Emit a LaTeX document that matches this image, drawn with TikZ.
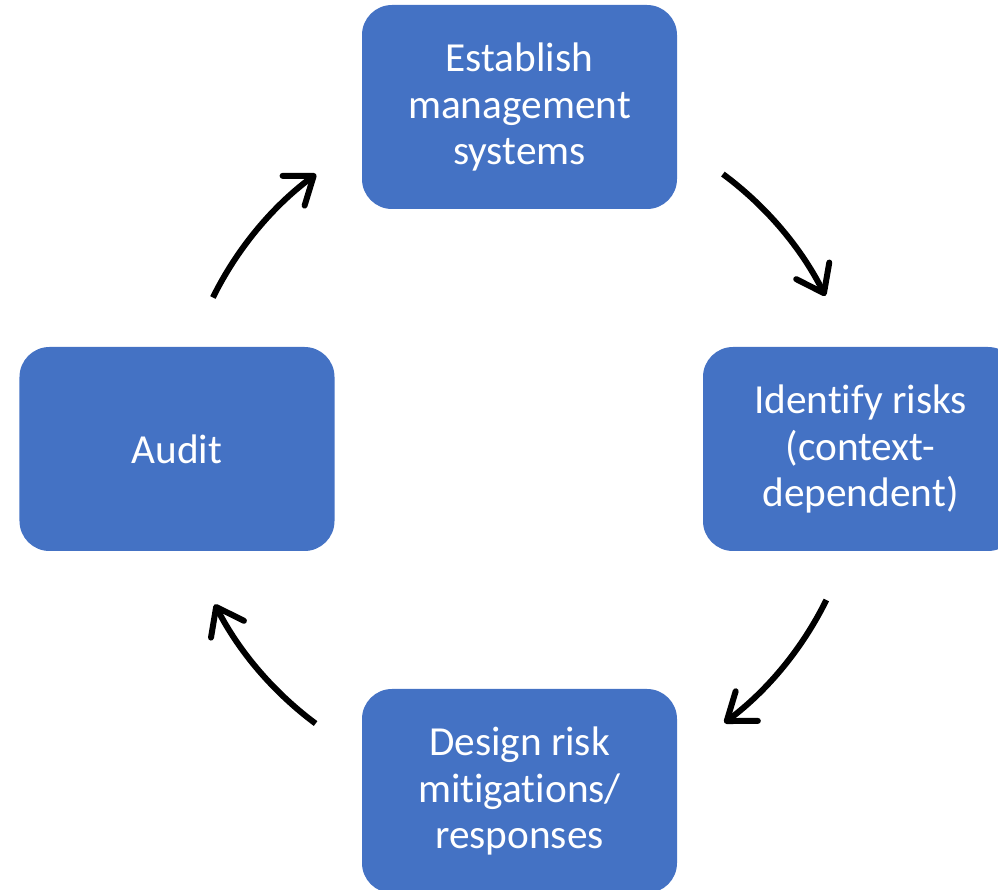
\documentclass[tikz,border=0pt]{standalone}
\usepackage{fontspec}
\setmainfont[Ligatures=NoCommon]{Carlito}
\usetikzlibrary{arrows.meta}
\definecolor{stepblue}{HTML}{4472C4}

\begin{document}
\begin{tikzpicture}[stage/.style={draw=none,fill=stepblue,rounded corners=0.6cm,minimum width=6.3cm,minimum height=4.08cm,align=center,text=white,font=\fontsize{23.5}{26.5}\selectfont},
cyc/.style={line width=3.4pt,-{Straight Barb[length=0.5cm,width=0.74cm,round]}}]
\useasboundingbox (0,0) rectangle (19.96,17.8);
\coordinate (ctr) at (10.39,8.82);
\node[stage](establish) at (10.39,15.66){Establish\\management\\systems};
\node[stage](identify) at (17.21,8.82){Identify risks\\(context-\\dependent)};
\node[stage](design) at (10.39,1.98){Design risk\\mitigations/\\responses};
\node[stage](audit) at (3.54,8.82){Audit};
\draw[cyc] ([shift={(53.5:6.84)}]ctr) arc[start angle=53.5,end angle=26.6,radius=6.84];
\draw[cyc] ([shift={(-26.2:6.84)}]ctr) arc[start angle=-26.2,end angle=-53.2,radius=6.84];
\draw[cyc] ([shift={(233.4:6.84)}]ctr) arc[start angle=233.4,end angle=207,radius=6.84];
\draw[cyc] ([shift={(153.7:6.84)}]ctr) arc[start angle=153.7,end angle=126.5,radius=6.84];
\end{tikzpicture}
\end{document}
